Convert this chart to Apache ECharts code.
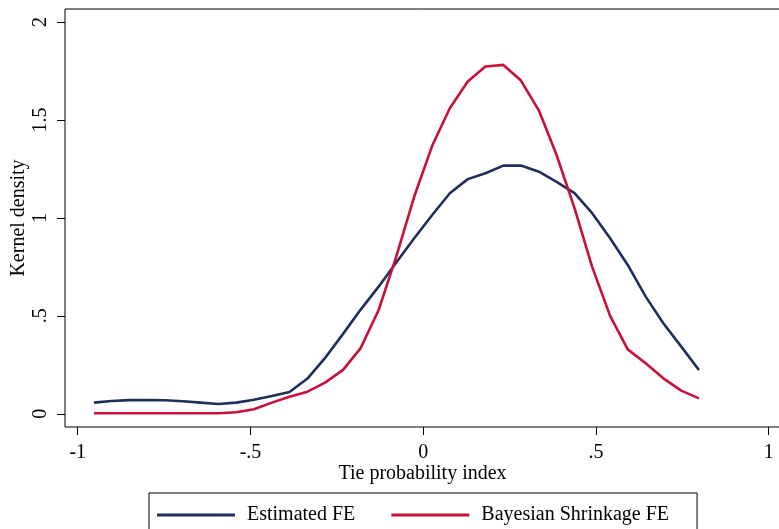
<!DOCTYPE html>
<html>
<head>
<meta charset="utf-8">
<script src="https://cdn.jsdelivr.net/npm/echarts@6/dist/echarts.min.js"></script>
<style>html,body{margin:0;padding:0;background:#fff}#c{width:779px;height:529px}</style>
</head>
<body>
<div id="c"></div>
<script>
// Grid of evaluation points (Tie probability index)
var xPoints = [-0.953,-0.902,-0.850,-0.799,-0.747,-0.696,-0.644,-0.593,-0.541,-0.490,
  -0.438,-0.387,-0.335,-0.284,-0.232,-0.181,-0.129,-0.078,-0.026,0.026,
  0.077,0.129,0.180,0.232,0.283,0.335,0.386,0.438,0.489,0.541,
  0.592,0.644,0.695,0.747,0.798];
// Kernel density, Estimated FE
var estimatedFE = [0.057,0.065,0.070,0.070,0.069,0.064,0.057,0.050,0.057,0.072,
  0.091,0.111,0.180,0.285,0.408,0.532,0.649,0.772,0.896,1.015,
  1.126,1.198,1.228,1.267,1.267,1.236,1.184,1.126,1.024,0.896,
  0.760,0.598,0.462,0.343,0.224];
// Kernel density, Bayesian Shrinkage FE
var bayesFE = [0.003,0.003,0.003,0.003,0.003,0.003,0.003,0.003,0.008,0.023,
  0.057,0.087,0.113,0.159,0.224,0.335,0.530,0.802,1.109,1.368,
  1.560,1.696,1.773,1.781,1.701,1.548,1.321,1.050,0.750,0.500,
  0.329,0.258,0.181,0.118,0.079];
var xTicks = [-1,-0.5,0,0.5,1];
var yTicks = [0,0.5,1,1.5,2];
var seriesNames = ['Estimated FE','Bayesian Shrinkage FE'];

function fmt(v){ return v === 0 ? '0' : String(v).replace('0.', '.'); }
function pairs(ys){ return xPoints.map(function(x,i){ return [x, ys[i]]; }); }

var FONT = 'Liberation Serif';
var chart = echarts.init(document.getElementById('c'), null, {renderer:'canvas'});
chart.setOption({
  backgroundColor:'#fff',
  animation:false,
  textStyle:{fontFamily:FONT},
  grid:{left:65, top:9, right:-1, bottom:102, show:true, borderColor:'#000', borderWidth:1,
        backgroundColor:'transparent', containLabel:false, outerBoundsMode:'none'},
  xAxis:{
    type:'value', min:-1.0368, max:1.0327,
    axisLine:{show:false, onZero:false},
    splitLine:{show:false},
    axisTick:{show:true, customValues:xTicks, length:8, lineStyle:{color:'#000', width:1}},
    axisLabel:{customValues:xTicks, formatter:fmt, color:'#000', fontSize:20, fontFamily:FONT, margin:16},
    name:'Tie probability index', nameLocation:'middle', nameGap:37, nameMoveOverlap:false,
    nameTextStyle:{color:'#000', fontSize:20, fontFamily:FONT}
  },
  yAxis:{
    type:'value', min:-0.0674, max:2.0664,
    axisLine:{show:false, onZero:false},
    splitLine:{show:false},
    axisTick:{show:true, customValues:yTicks, length:8, lineStyle:{color:'#000', width:1}},
    axisLabel:{customValues:yTicks, formatter:fmt, color:'#000', fontSize:20, fontFamily:FONT, margin:14, rotate:90},
    name:'Kernel density', nameLocation:'middle', nameGap:36, nameRotate:90, nameMoveOverlap:false,
    nameTextStyle:{color:'#000', fontSize:20, fontFamily:FONT}
  },
  legend:{
    left:149, top:493, orient:'horizontal',
    padding:[12,28,30,8],
    borderColor:'#000', borderWidth:1,
    itemWidth:78, itemHeight:3, itemGap:36, icon:'rect',
    textStyle:{color:'#000', fontSize:20, fontFamily:FONT, padding:[0,0,0,7]},
    data:seriesNames
  },
  series:[
    {name:seriesNames[0], type:'line', data:pairs(estimatedFE), symbol:'none', smooth:false,
     lineStyle:{color:'#1f2f5c', width:2.6}, itemStyle:{color:'#1f2f5c'}},
    {name:seriesNames[1], type:'line', data:pairs(bayesFE), symbol:'none', smooth:false,
     lineStyle:{color:'#c8103a', width:2.6}, itemStyle:{color:'#c8103a'}}
  ]
});
</script>
</body>
</html>
